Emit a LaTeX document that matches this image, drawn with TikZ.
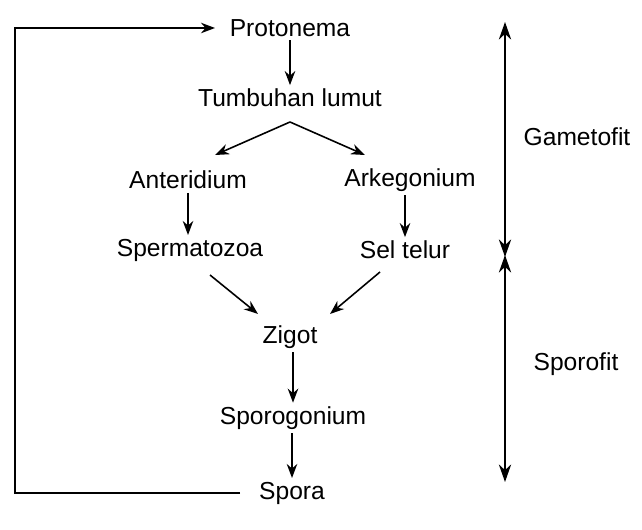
\documentclass[tikz,border=0pt]{standalone}
\usepackage{fontspec}
\setmainfont{Liberation Sans}
\usetikzlibrary{arrows.meta}
\begin{document}
\begin{tikzpicture}[x=0.02cm,y=-0.02cm,
  lbl/.style={font=\fontsize{14}{16}\selectfont,inner sep=2pt},
  arr/.style={-{Stealth[length=8pt,width=6pt]},line width=0.9pt},
  darr/.style={{Stealth[length=10pt,width=7pt]}-{Stealth[length=10pt,width=7pt]},line width=0.9pt}]
\path[use as bounding box] (0,0) rectangle (642,530);
\node[lbl] (p) at (290,28) {Protonema};
\node[lbl] (t) at (290,98) {Tumbuhan lumut};
\node[lbl] (an) at (188,180) {Anteridium};
\node[lbl] (ar) at (410,180) {Arkegonium};
\node[lbl] (sp) at (190,250) {Spermatozoa};
\node[lbl] (st) at (405,250) {Sel telur};
\node[lbl] (z) at (290,337) {Zigot};
\node[lbl] (sg) at (293,418) {Sporogonium};
\node[lbl] (s) at (292,493) {Spora};
\node[lbl] (g) at (577,137) {Gametofit};
\node[lbl] (sf) at (576,364) {Sporofit};
\coordinate (g1) at (505,22); \coordinate (g2) at (505,257);
\coordinate (s1) at (505,255); \coordinate (s2) at (505,482);
\draw[darr] (g1) -- (g2);
\draw[darr] (s1) -- (s2);
\coordinate (tb) at (290,122);
\coordinate (fl) at (15,493); \coordinate (ft) at (15,28);
\coordinate (pe) at (215,28); \coordinate (se) at (240,493);
\draw[arr] (p.south) -- (p.south |- t.north);
\draw[arr] (tb) -- (215,155);
\draw[arr] (tb) -- (365,155);
\draw[arr] (an.south) -- (an.south |- sp.north);
\draw[arr] (ar.south -| st.north) -- (st.north);
\draw[arr] (210,275) -- (258,314);
\draw[arr] (380,272) -- (330,314);
\draw[arr] (z.south -| sg.north) -- (sg.north);
\draw[arr] (sg.south -| s.north) -- (s.north);
\draw[arr] (se) -- (fl) -- (ft) -- (pe);
\end{tikzpicture}
\end{document}
